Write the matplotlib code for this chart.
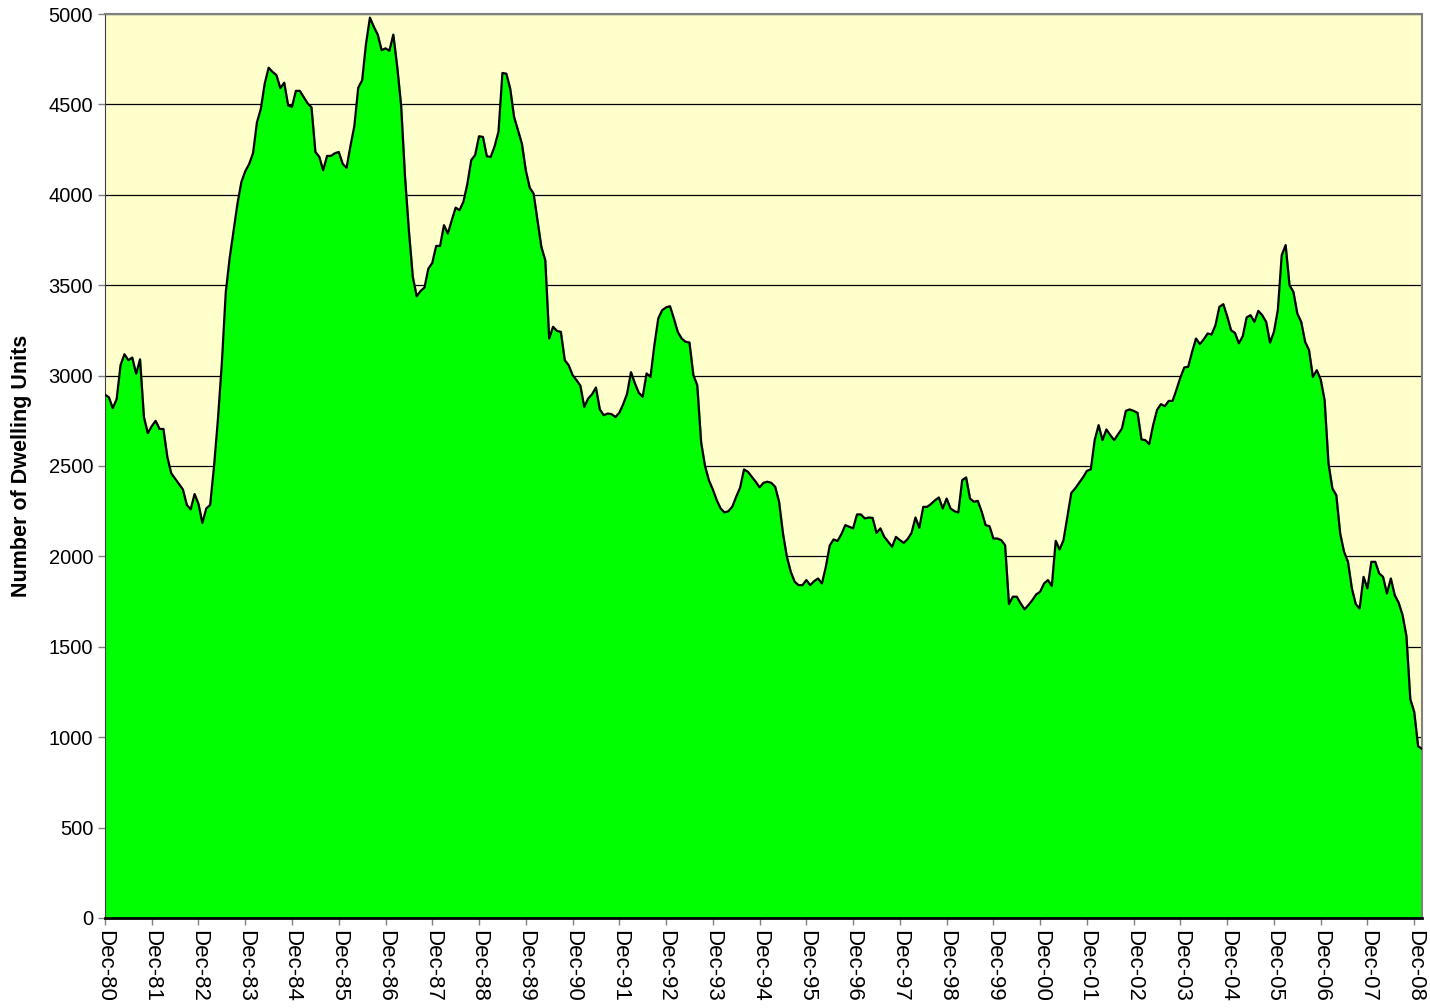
"""Monthly dwelling unit approvals, Dec-80 to Feb-09, drawn as a filled area chart."""

import matplotlib

matplotlib.use("Agg")

import matplotlib.pyplot as plt
import numpy as np

# Monthly values, each list starts at December of the labelled year.
Y1980 = [2895, 2880, 2820, 2870, 3058, 3118, 3085, 3100, 3010, 3090, 2770, 2682]
Y1981 = [2720, 2750, 2705, 2705, 2550, 2460, 2430, 2400, 2370, 2285, 2260, 2345]
Y1982 = [2290, 2185, 2265, 2285, 2500, 2760, 3070, 3460, 3650, 3800, 3950, 4070]
Y1983 = [4130, 4170, 4230, 4400, 4475, 4615, 4703, 4680, 4662, 4590, 4620, 4495]
Y1984 = [4487, 4575, 4575, 4540, 4506, 4484, 4237, 4210, 4136, 4215, 4215, 4230]
Y1985 = [4237, 4172, 4149, 4270, 4380, 4593, 4633, 4836, 4980, 4929, 4886, 4800]
Y1986 = [4810, 4797, 4886, 4708, 4495, 4100, 3800, 3546, 3439, 3468, 3487, 3592]
Y1987 = [3623, 3717, 3717, 3832, 3786, 3859, 3929, 3915, 3962, 4060, 4192, 4220]
Y1988 = [4324, 4320, 4213, 4210, 4268, 4350, 4674, 4670, 4587, 4430, 4357, 4283]
Y1989 = [4135, 4040, 4006, 3859, 3711, 3638, 3205, 3270, 3247, 3242, 3085, 3058]
Y1990 = [3003, 2975, 2945, 2827, 2873, 2897, 2934, 2813, 2781, 2790, 2787, 2771]
Y1991 = [2794, 2842, 2900, 3019, 2957, 2905, 2883, 3012, 2993, 3168, 3316, 3362]
Y1992 = [3377, 3384, 3316, 3242, 3205, 3187, 3183, 3003, 2947, 2630, 2500, 2420]
Y1993 = [2370, 2311, 2265, 2243, 2250, 2275, 2330, 2380, 2481, 2468, 2440, 2413]
Y1994 = [2382, 2407, 2413, 2407, 2385, 2302, 2127, 1998, 1915, 1860, 1841, 1841]
Y1995 = [1869, 1841, 1863, 1878, 1850, 1942, 2060, 2094, 2085, 2123, 2173, 2164]
Y1996 = [2155, 2232, 2232, 2210, 2215, 2213, 2130, 2155, 2108, 2081, 2053, 2108]
Y1997 = [2090, 2075, 2096, 2130, 2215, 2158, 2274, 2274, 2290, 2310, 2326, 2265]
Y1998 = [2320, 2265, 2250, 2243, 2422, 2437, 2320, 2302, 2307, 2247, 2173, 2167]
Y1999 = [2099, 2099, 2090, 2062, 1736, 1777, 1777, 1740, 1707, 1731, 1758, 1790]
Y2000 = [1804, 1850, 1869, 1836, 2086, 2038, 2090, 2219, 2351, 2376, 2407, 2437]
Y2001 = [2473, 2481, 2643, 2726, 2643, 2702, 2671, 2643, 2676, 2708, 2805, 2813]
Y2002 = [2805, 2794, 2647, 2643, 2621, 2726, 2810, 2842, 2831, 2860, 2860, 2923]
Y2003 = [2990, 3045, 3049, 3131, 3205, 3174, 3201, 3233, 3227, 3279, 3380, 3395]
Y2004 = [3328, 3251, 3236, 3178, 3218, 3322, 3334, 3297, 3358, 3334, 3297, 3182]
Y2005 = [3242, 3362, 3666, 3722, 3500, 3463, 3343, 3297, 3187, 3141, 2993, 3030]
Y2006 = [2979, 2864, 2514, 2376, 2339, 2127, 2025, 1970, 1823, 1736, 1712, 1887]
Y2007 = [1823, 1970, 1970, 1906, 1887, 1795, 1878, 1786, 1744, 1676, 1560, 1210]
Y2008 = [1140, 950, 935]

YEAR_BLOCKS = [
    Y1980, Y1981, Y1982, Y1983, Y1984, Y1985, Y1986, Y1987, Y1988, Y1989,
    Y1990, Y1991, Y1992, Y1993, Y1994, Y1995, Y1996, Y1997, Y1998, Y1999,
    Y2000, Y2001, Y2002, Y2003, Y2004, Y2005, Y2006, Y2007, Y2008,
]
TICK_LABELS = [f"Dec-{yr % 100:02d}" for yr in range(1980, 2009)]
Y_TICKS = list(range(0, 5001, 500))

plt.rcParams["font.family"] = ["Liberation Sans", "DejaVu Sans"]


def build_chart() -> None:
    """Draw the filled area chart and save it to out.png."""
    values = np.concatenate([np.asarray(b, dtype=float) for b in YEAR_BLOCKS])
    months = np.arange(len(values))

    fig = plt.figure(figsize=(14.3, 10.08), dpi=100)
    ax = fig.add_axes([0.0734, 0.0893, 0.9210, 0.8968])
    ax.set_facecolor("#FFFFCC")

    ax.fill_between(months, 0, values, color="#00FF00", zorder=2)
    ax.plot(months, values, color="black", lw=1.6, zorder=3)

    ax.set_xlim(0, len(values) - 1)
    ax.set_ylim(0, 5000)
    ax.set_yticks(Y_TICKS)
    ax.set_yticklabels([str(v) for v in Y_TICKS], fontsize=14.5)
    ax.set_xticks(np.arange(len(TICK_LABELS)) * 12)
    ax.set_xticklabels(TICK_LABELS, rotation=-90, fontsize=16, va="top", ha="center")
    ax.tick_params(axis="both", direction="out", length=5, width=1, color="#808080")
    ax.tick_params(axis="x", pad=4)

    ax.grid(axis="y", color="black", lw=0.9, zorder=1)
    ax.set_axisbelow(True)

    for side in ("top", "right"):
        ax.spines[side].set_color("#808080")
        ax.spines[side].set_linewidth(1.5)
    ax.spines["left"].set_color("#404040")
    ax.spines["bottom"].set_color("black")
    ax.spines["bottom"].set_linewidth(2)
    ax.spines["bottom"].set_zorder(4)

    ax.set_ylabel("Number of Dwelling Units", fontsize=15.5, fontweight="bold", labelpad=12)

    fig.savefig("out.png", dpi=100)
    plt.close(fig)


if __name__ == "__main__":
    build_chart()
